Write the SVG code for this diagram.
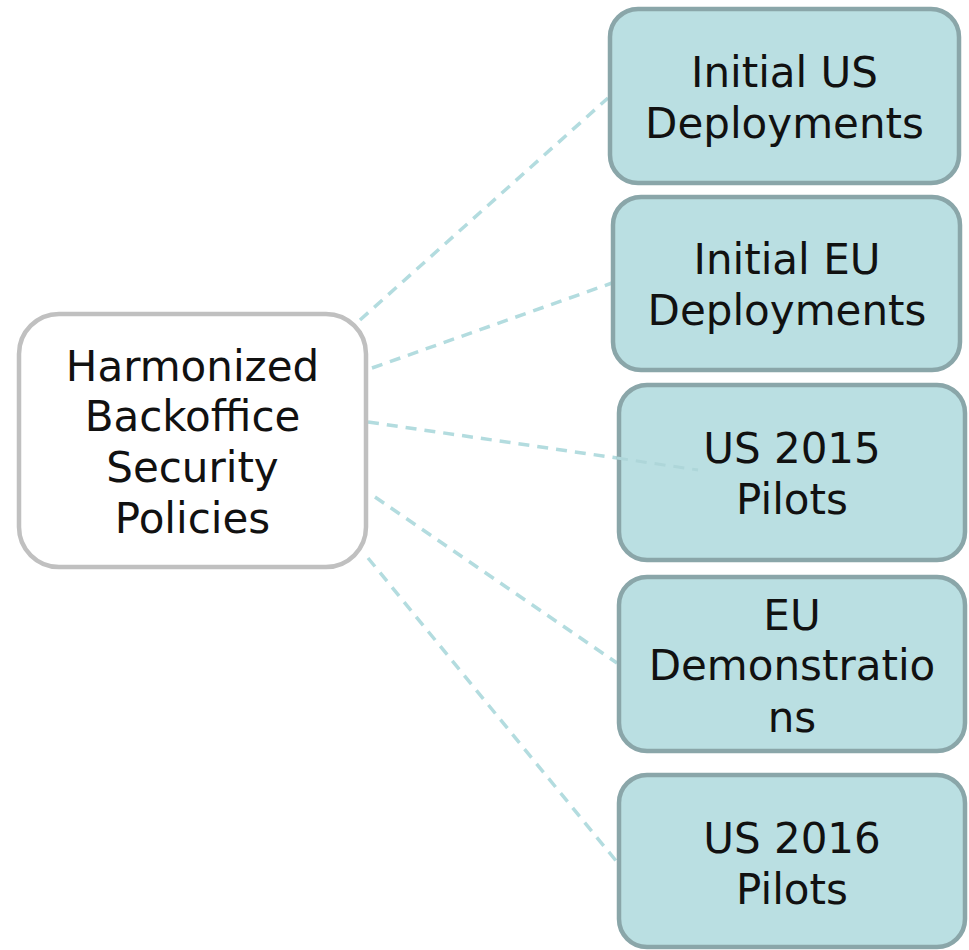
<svg xmlns="http://www.w3.org/2000/svg" width="969" height="950" viewBox="0 0 969 950">
<style>
.leaf{fill:#badfe2;stroke:#8aa6a9;stroke-width:4.5}
.root{fill:#ffffff;stroke:#c0c0c0;stroke-width:4.5}
.lbl{font-family:"DejaVu Sans",Verdana,sans-serif;font-size:42px;fill:#111111;text-anchor:middle}
.edge{stroke:#b3dcdf;stroke-width:3.5;stroke-dasharray:11 8;fill:none}
</style>
<rect width="969" height="950" fill="#ffffff"/>
<g id="connectors">
<line class="edge" x1="360" y1="320" x2="608" y2="98"/>
<line class="edge" x1="372" y1="368" x2="612" y2="283"/>
<line class="edge" x1="368" y1="422" x2="617" y2="458"/>
<line class="edge" x1="375" y1="497" x2="617" y2="663"/>
<line class="edge" x1="368" y1="558" x2="617" y2="862"/>
</g>
<g id="root">
<rect class="root" x="19" y="314" width="347" height="253" rx="40"/>
<text class="lbl" x="192.5" y="381">Harmonized</text>
<text class="lbl" x="192.5" y="431">Backoffice</text>
<text class="lbl" x="192.5" y="482">Security</text>
<text class="lbl" x="192.5" y="533">Policies</text>
</g>
<g id="n1">
<rect class="leaf" x="610" y="9" width="349" height="174" rx="28"/>
<text class="lbl" x="784.5" y="87">Initial US</text>
<text class="lbl" x="784.5" y="138">Deployments</text>
</g>
<g id="n2">
<rect class="leaf" x="613" y="197" width="347" height="173" rx="28"/>
<text class="lbl" x="787" y="274">Initial EU</text>
<text class="lbl" x="787" y="325">Deployments</text>
</g>
<g id="n3">
<rect class="leaf" x="619" y="385" width="346" height="175" rx="28"/>
<text class="lbl" x="792" y="463">US 2015</text>
<text class="lbl" x="792" y="514">Pilots</text>
</g>
<line class="edge" x1="617" y1="458" x2="698" y2="470" style="stroke:#aed6d9;stroke-width:3"/>
<g id="n4">
<rect class="leaf" x="619" y="577" width="346" height="174" rx="28"/>
<text class="lbl" x="792" y="630">EU</text>
<text class="lbl" x="792" y="680">Demonstratio</text>
<text class="lbl" x="792" y="732">ns</text>
</g>
<g id="n5">
<rect class="leaf" x="619" y="775" width="346" height="172" rx="28"/>
<text class="lbl" x="792" y="853">US 2016</text>
<text class="lbl" x="792" y="904">Pilots</text>
</g>
</svg>
